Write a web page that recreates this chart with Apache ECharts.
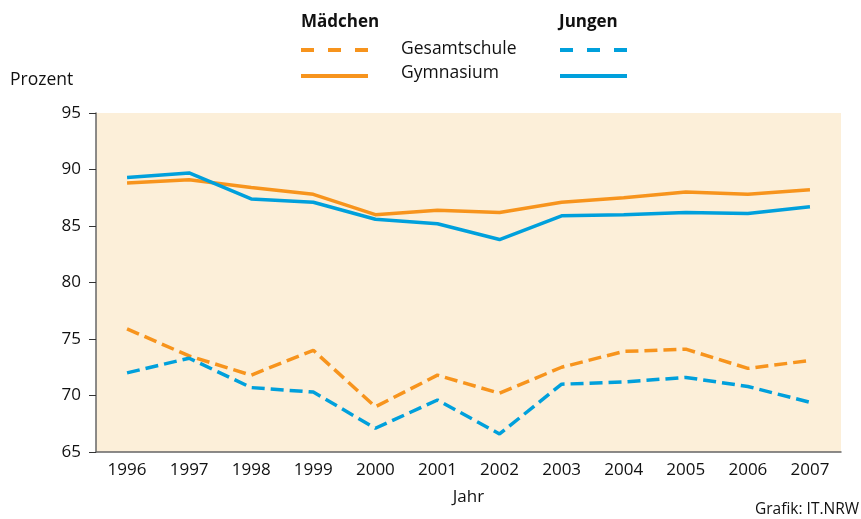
<!DOCTYPE html>
<html>
<head>
<meta charset="utf-8">
<script src="https://cdn.jsdelivr.net/npm/echarts@6/dist/echarts.min.js"></script>
<style>
  html, body { margin: 0; padding: 0; background: #fff; }
  #chart { width: 861px; height: 519px; }
</style>
</head>
<body>
<div id="chart"></div>
<script>
// Daten (Prozent)
var jahre = ['1996', '1997', '1998', '1999', '2000', '2001', '2002', '2003', '2004', '2005', '2006', '2007'];
var gesamtMaedchen = [75.9, 73.5, 71.8, 74.0, 69.0, 71.8, 70.2, 72.5, 73.9, 74.1, 72.4, 73.1];
var gymMaedchen = [88.8, 89.1, 88.4, 87.8, 86.0, 86.4, 86.2, 87.1, 87.5, 88.0, 87.8, 88.2];
var gesamtJungen = [72.0, 73.3, 70.7, 70.3, 67.1, 69.6, 66.6, 71.0, 71.2, 71.6, 70.8, 69.4];
var gymJungen = [89.3, 89.7, 87.4, 87.1, 85.6, 85.2, 83.8, 85.9, 86.0, 86.2, 86.1, 86.7];

var orange = '#F7941D';
var blau = '#00A0DC';
var font = 'Open Sans';

var chart = echarts.init(document.getElementById('chart'));

function linie(name, data, color, dashed) {
    return {
        name: name,
        type: 'line',
        data: data,
        symbol: 'none',
        lineStyle: {
            color: color,
            width: 3.5,
            type: dashed ? [13, 6] : 'solid',
            cap: 'butt'
        },
        itemStyle: { color: color },
        z: dashed ? 2 : 3
    };
}

function legendeLinie(x1, y, color, dashed) {
    return {
        type: 'line',
        shape: { x1: x1, y1: y, x2: x1 + 67, y2: y },
        style: { stroke: color, lineWidth: 4, lineDash: dashed ? [13, 14] : null }
    };
}

function text(x, y, s, size, bold, align) {
    return {
        type: 'text',
        x: x,
        y: y,
        style: {
            text: s,
            fontFamily: font,
            fontSize: size,
            fontWeight: bold ? 'bold' : 'normal',
            fill: '#111',
            textAlign: align || 'left',
            textVerticalAlign: 'middle'
        }
    };
}

chart.setOption({
    animation: false,
    textStyle: { fontFamily: font },
    grid: {
        left: 96,
        right: 20,
        top: 113,
        bottom: 67,
        show: true,
        backgroundColor: '#FCEFD9',
        borderWidth: 0
    },
    xAxis: {
        type: 'category',
        data: jahre,
        boundaryGap: true,
        name: 'Jahr',
        nameLocation: 'middle',
        nameGap: 37,
        nameTextStyle: { fontSize: 17, color: '#111', fontFamily: font },
        axisLine: { show: true, lineStyle: { color: '#666', width: 1.5 } },
        axisTick: { show: false },
        axisLabel: { fontSize: 17, color: '#111', margin: 10, fontFamily: font },
        splitLine: { show: false }
    },
    yAxis: {
        type: 'value',
        min: 65,
        max: 95,
        interval: 5,
        axisLine: { show: true, lineStyle: { color: '#666', width: 1.5 } },
        axisTick: { show: true, length: 7, lineStyle: { color: '#333' } },
        axisLabel: { fontSize: 17, color: '#111', margin: 15, fontFamily: font },
        splitLine: { show: false }
    },
    series: [
        linie('Gesamtschule Mädchen', gesamtMaedchen, orange, true),
        linie('Gesamtschule Jungen', gesamtJungen, blau, true),
        linie('Gymnasium Mädchen', gymMaedchen, orange, false),
        linie('Gymnasium Jungen', gymJungen, blau, false)
    ],
    graphic: [
        text(301, 22, 'Mädchen', 17, true),
        text(559, 22, 'Jungen', 17, true),
        legendeLinie(301, 50, orange, true),
        legendeLinie(301, 76, orange, false),
        legendeLinie(560, 50, blau, true),
        legendeLinie(560, 76, blau, false),
        text(401, 49, 'Gesamtschule', 17.5, false),
        text(401, 73, 'Gymnasium', 17.5, false),
        text(10, 80, 'Prozent', 17.5, false),
        text(755, 510, 'Grafik: IT.NRW', 15.5, false)
    ]
});
</script>
</body>
</html>
